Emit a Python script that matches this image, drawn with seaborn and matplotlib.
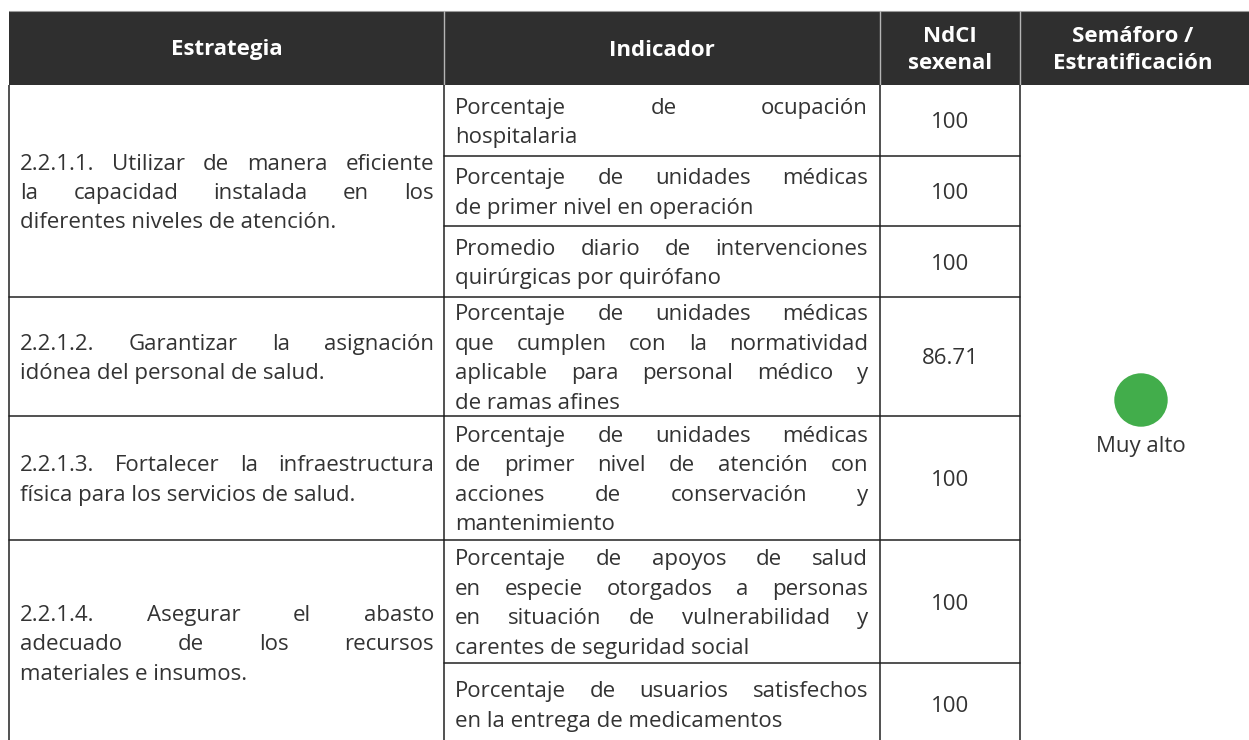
import matplotlib
matplotlib.use("Agg")
import matplotlib.pyplot as plt
from matplotlib.patches import Rectangle
import seaborn as sns
import pandas as pd

# ---------------- data ----------------
headers = [["Estrategia"], ["Indicador"], ["NdCI", "sexenal"], ["Semáforo /", "Estratificación"]]

strategies = [
    ["2.2.1.1. Utilizar de manera eficiente", "la capacidad instalada en los",
     "diferentes niveles de atención."],
    ["2.2.1.2. Garantizar la asignación", "idónea del personal de salud."],
    ["2.2.1.3. Fortalecer la infraestructura", "física para los servicios de salud."],
    ["2.2.1.4. Asegurar el abasto", "adecuado de los recursos", "materiales e insumos."],
]
strategy_rows = [3, 1, 1, 2]

indicators = [
    ["Porcentaje de ocupación", "hospitalaria"],
    ["Porcentaje de unidades médicas", "de primer nivel en operación"],
    ["Promedio diario de intervenciones", "quirúrgicas por quirófano"],
    ["Porcentaje de unidades médicas", "que cumplen con la normatividad",
     "aplicable para personal médico y", "de ramas afines"],
    ["Porcentaje de unidades médicas", "de primer nivel de atención con",
     "acciones de conservación y", "mantenimiento"],
    ["Porcentaje de apoyos de salud", "en especie otorgados a personas",
     "en situación de vulnerabilidad y", "carentes de seguridad social"],
    ["Porcentaje de usuarios satisfechos", "en la entrega de medicamentos"],
]
ndci_values = ["100", "100", "100", "86.71", "100", "100", "100"]

semaforo_label = "Muy alto"
semaforo_color = "#42ad4b"

# ---------------- style ----------------
sns.set_theme(style="white")
plt.rcParams["font.family"] = ["Open Sans", "DejaVu Sans"]

W, H = 1249, 740
fig = plt.figure(figsize=(W / 100, H / 100), dpi=100)
ax = fig.add_axes([0, 0, 1, 1])
ax.set_xlim(0, W)
ax.set_ylim(H, 0)
ax.axis("off")

TXT = "#333333"
LINE = "#222222"
FS = 16
HFS = 16
LH = 29.5
col_x = [9, 444, 880, 1020, W]
h_top, h_bot = 11, 85
row_edges = [85, 156, 226, 297, 416, 540, 663, 745]

renderer = fig.canvas.get_renderer()


def text_width(s, **kw):
    t = ax.text(0, 0, s, fontsize=FS, **kw)
    w = t.get_window_extent(renderer).width
    t.remove()
    return w


def draw_paragraph(lines, x0, x1, yc):
    n = len(lines)
    for i, line in enumerate(lines):
        ybase = yc + (i - (n - 1) / 2) * LH + 8
        words = line.split()
        if i == n - 1 or len(words) == 1:
            ax.text(x0, ybase, line, fontsize=FS, color=TXT, ha="left", va="baseline")
            continue
        widths = [text_width(w) for w in words]
        gap = (x1 - x0 - sum(widths)) / (len(words) - 1)
        x = x0
        for w, wd in zip(words, widths):
            ax.text(x, ybase, w, fontsize=FS, color=TXT, ha="left", va="baseline")
            x += wd + gap


# header
ax.add_patch(Rectangle((col_x[0], h_top), W - col_x[0], h_bot - h_top,
                       facecolor="#2f2f2f", edgecolor="none", zorder=1))
ax.plot([col_x[0], W], [h_top, h_top], color="#9a9a9a", lw=0.8, zorder=2)
for x in col_x[1:4]:
    ax.plot([x, x], [h_top, h_bot], color="#b5b5b5", lw=1.0, zorder=2)
hc = (h_top + h_bot) / 2
for i, hl in enumerate(headers):
    cx = (col_x[i] + col_x[i + 1]) / 2
    if i == 3:
        cx = 1133
    n = len(hl)
    for j, s in enumerate(hl):
        yb = hc + (j - (n - 1) / 2) * 26.5 + 7.5
        ax.text(cx, yb, s, fontsize=HFS, fontweight="bold", color="white",
                ha="center", va="baseline", zorder=3)

# grid lines
body_bot = H + 5
for x in col_x[:4]:
    ax.plot([x, x], [h_bot, body_bot], color=LINE, lw=1.1, solid_capstyle="butt")

# strategy rows
r = 0
for lines, span in zip(strategies, strategy_rows):
    top = row_edges[r]
    bot = row_edges[r + span]
    draw_paragraph(lines, 20, 434, (top + bot) / 2)
    if r + span < len(row_edges) - 1:
        ax.plot([col_x[0], col_x[1]], [bot, bot], color=LINE, lw=1.1)
    r += span

# indicator rows
for i, (lines, val) in enumerate(zip(indicators, ndci_values)):
    top, bot = row_edges[i], row_edges[i + 1]
    yc = (top + bot) / 2
    draw_paragraph(lines, 455, 868, yc)
    ax.text((col_x[2] + col_x[3]) / 2, yc + 8, val, fontsize=FS, color=TXT,
            ha="center", va="baseline")
    if i < len(indicators) - 1:
        ax.plot([col_x[1], col_x[3]], [bot, bot], color=LINE, lw=1.1)

# semaforo
sem = pd.DataFrame({"x": [1141], "y": [400], "nivel": [semaforo_label]})
sns.scatterplot(data=sem, x="x", y="y", s=1480, color=semaforo_color,
                edgecolor="none", legend=False, ax=ax, zorder=4)
ax.text(1141, 452, semaforo_label, fontsize=FS, color=TXT, ha="center", va="baseline")
ax.set_xlim(0, W)
ax.set_ylim(H, 0)
ax.axis("off")

fig.savefig("out.png", dpi=100, facecolor="white")
